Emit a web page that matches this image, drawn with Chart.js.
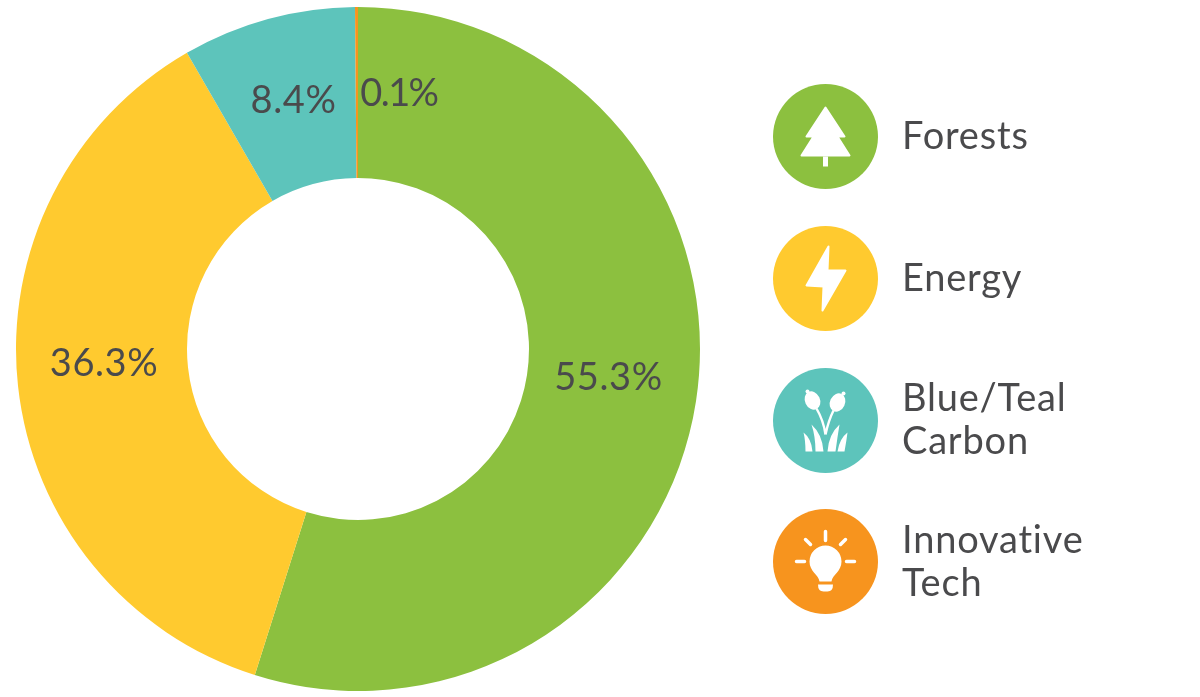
<!DOCTYPE html>
<html>
<head>
<meta charset="utf-8">
<script src="https://cdn.jsdelivr.net/npm/chart.js@4"></script>
<style>
html,body{margin:0;padding:0;background:#fff;width:1200px;height:697px;overflow:hidden}
#myDonut{position:absolute;left:0;top:0}
.item{position:absolute;left:773px;width:420px;height:105px;display:flex;align-items:center;
  font-family:Lato,sans-serif;font-size:38px;line-height:43px;color:#4a4a4c;letter-spacing:.8px}
.item svg{width:105px;height:105px;margin-right:25px;flex:none}
.item div{position:relative;top:-2px;left:-1px}
</style>
</head>
<body>
<canvas id="myDonut" width="1200" height="697"></canvas>
<div id="legend"></div>
<script>
var categories = ['Forests','Energy','Blue/Teal Carbon','Innovative Tech'];
var shares = [54.9,36.8,8.2,0.14];
var shareLabels = ['55.3%','36.3%','8.4%','0.1%'];
var colors = ['#8cc03f','#ffca2f','#5dc4bb','#f7941e'];
var legendLines = [['Forests'],['Energy'],['Blue/Teal','Carbon'],['Innovative','Tech']];

// label nudges from the slice centre, the source did not centre them exactly
var nudgeX = [-3,1,3,42];
var nudgeY = [-10,-13,-1,1];
// Lato's 1 is wide, so 0.1% gets tightened
var labelSpacing = ['0.6px','0.6px','0.6px','-1.6px'];

var icons = [
  '<path d="M0-29 19 0H12L24 19H-24L-12 0H-19Z" fill="#fff" stroke="#fff" stroke-width="2" stroke-linejoin="round"/><rect x="-2.5" y="20" width="5" height="10" fill="#fff"/>',
  '<path d="M3-32-19 7-2 8-3 32 20-8 2-8Z" fill="#fff" stroke="#fff" stroke-width="2" stroke-linejoin="round"/>',
  '<g fill="#fff"><ellipse cx="-13" cy="-20" rx="7.5" ry="9.5" transform="rotate(-25 -13 -20)"/><ellipse cx="12" cy="-18" rx="7.5" ry="9.5" transform="rotate(25 12 -18)"/><circle cx="-18" cy="-29" r="2"/><circle cx="18" cy="-27" r="2"/>' +
  '<path d="M-22 12Q-14 18-13 31H-20Q-20 20-22 12ZM-14 4Q-3 14-2 31H-10Q-10 16-14 4ZM14 4Q3 14 2 31H10Q12 16 14 4ZM22 12Q14 18 12 31H19Q21 20 22 12Z"/></g>' +
  '<path d="M-9-12Q-2 0 0 14M8-10Q3 0 0 14" fill="none" stroke="#fff" stroke-width="2.4"/>',
  '<path d="M-6 20C-7 13-16 10-16 0A16 16 0 1 1 16 0C16 10 7 13 6 20Z" fill="#fff"/><path d="M-7.5 23H7.5Q7.5 30 2 30H-2Q-7.5 30-7.5 23Z" fill="#fff"/>' +
  '<path d="M0-30V-21M-20-22-15-17M20-22 15-17M-29 0H-21M29 0H21" stroke="#fff" stroke-width="3.5" stroke-linecap="round"/>'
];

var tops = [83.5,225.5,367.5,509];
var html = '';
for (var i = 0; i < categories.length; i++) {
  html += '<div class="item" style="top:' + tops[i] + 'px"><svg viewBox="-52.5 -52.5 105 105">' +
    '<circle r="52.5" fill="' + colors[i] + '"/>' + icons[i] + '</svg><div>' +
    legendLines[i].join('<br>') + '</div></div>';
}
document.getElementById('legend').innerHTML = html;

var sliceLabels = {
  id: 'sliceLabels',
  afterDatasetsDraw: function(chart) {
    var c = chart.ctx;
    var arcs = chart.getDatasetMeta(0).data;
    c.save();
    c.font = '38px Lato, sans-serif';
    c.fillStyle = '#4a4a4c';
    c.textAlign = 'center';
    c.textBaseline = 'middle';
    arcs.forEach(function(arc, i) {
      var p = arc.getCenterPoint();
      c.letterSpacing = labelSpacing[i];
      c.fillText(shareLabels[i], p.x + nudgeX[i], p.y + nudgeY[i]);
    });
    c.restore();
  }
};

var ctx = document.getElementById('myDonut').getContext('2d');
var chart = new Chart(ctx, {
  type: 'doughnut',
  data: {
    labels: categories,
    datasets: [{
      data: shares,
      backgroundColor: colors,
      borderWidth: 0
    }]
  },
  options: {
    responsive: false,
    animation: false,
    cutout: '50%',
    layout: { padding: { left: 16, right: 500, top: 7, bottom: 6 } },
    plugins: { legend: { display: false }, tooltip: { enabled: false } }
  },
  plugins: [sliceLabels]
});
</script>
</body>
</html>
